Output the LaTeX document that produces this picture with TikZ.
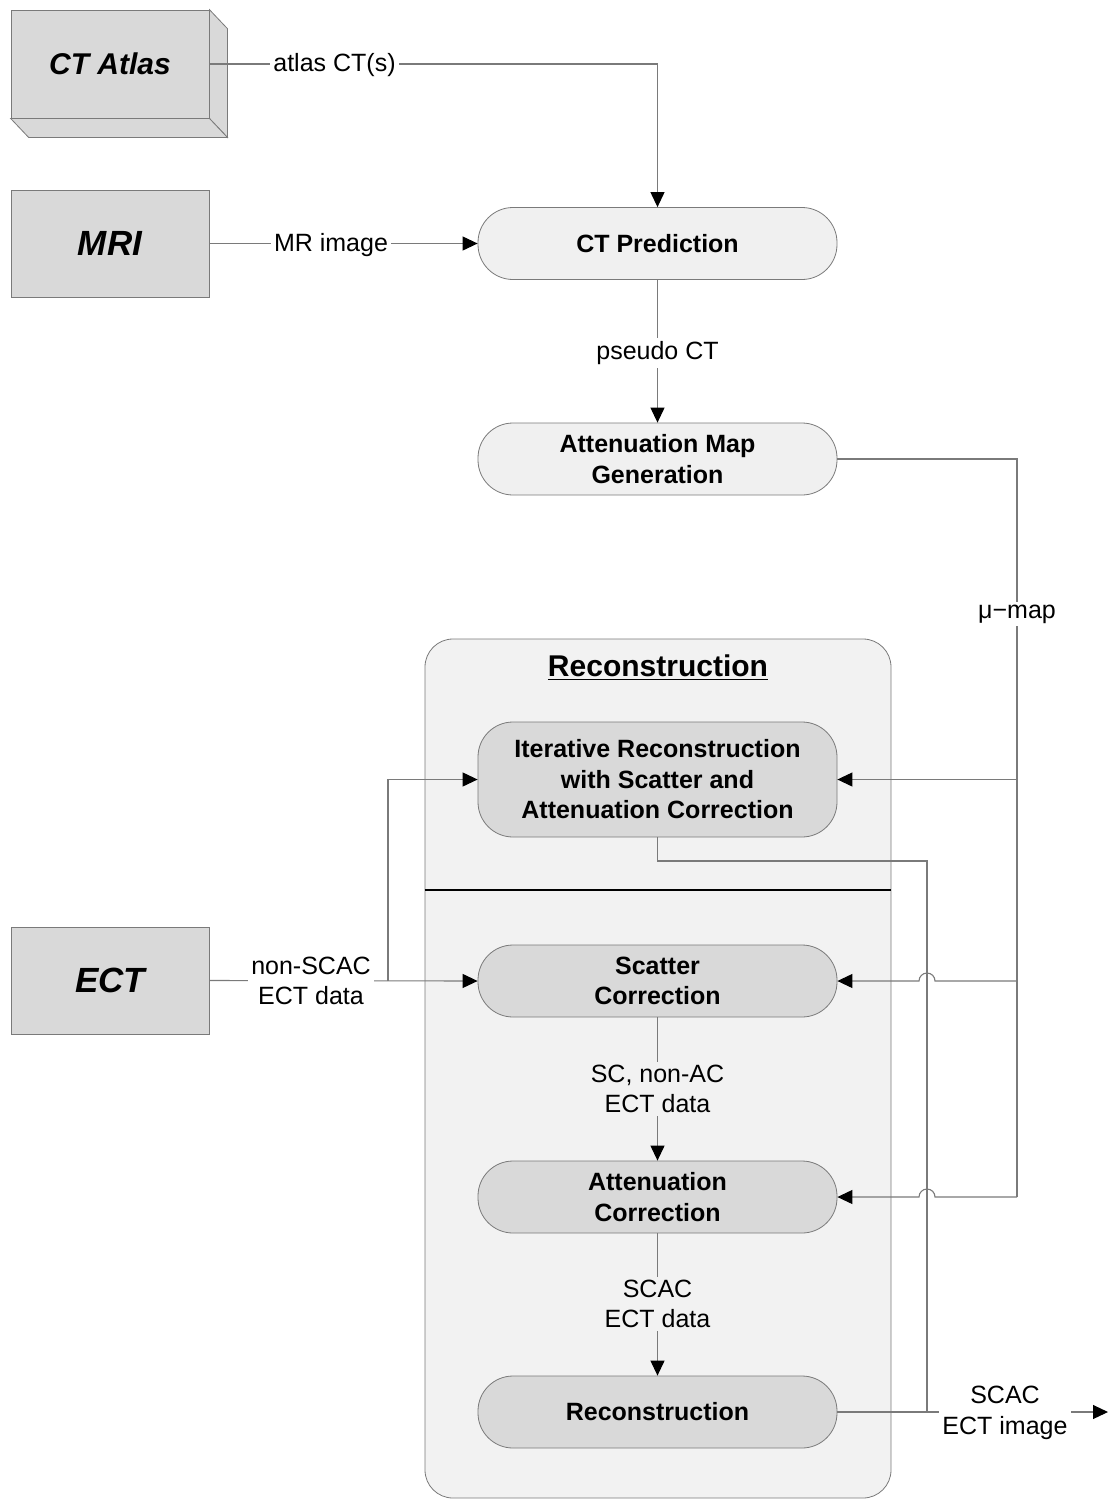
\documentclass[tikz,border=0pt]{standalone}
\usepackage{fontspec}
\setmainfont{Liberation Sans}
\usetikzlibrary{arrows.meta,calc}
\definecolor{edge}{HTML}{7A7A7A}
\definecolor{boxgray}{HTML}{D9D9D9}
\definecolor{pill}{HTML}{F0F0F0}
\definecolor{panel}{HTML}{F2F2F2}

\begin{document}
\begin{tikzpicture}[x=0.5pt,y=-0.5pt,
  every node/.style={font=\fontsize{12.5}{15.25}\selectfont, align=center, inner sep=1pt},
  source/.style={draw=edge, fill=boxgray, minimum width=99pt, minimum height=53.5pt,
    font=\fontsize{17.5}{20}\selectfont\bfseries\itshape},
  light/.style={draw=edge, fill=pill, rounded corners=17.5pt, minimum width=179.5pt,
    minimum height=36pt, font=\fontsize{12.5}{15.25}\selectfont\bfseries},
  dark/.style={light, fill=boxgray},
  conn/.style={draw=edge, line width=0.55pt},
  arr/.style={conn, -{Triangle[length=7.5pt,width=7pt,color=black]}},
  lab/.style={fill=white, inner sep=1.5pt},
  plab/.style={fill=panel, inner sep=1.5pt},
]
\useasboundingbox (0,0) rectangle (1110,1499);

% reconstruction panel
\node[draw=edge, fill=panel, rounded corners=14pt, minimum width=233pt,
      minimum height=429.5pt] (panel) at (658,1068.5) {};
\node[font=\fontsize{15}{18}\selectfont\bfseries] (title) at (658,668) {\underline{Reconstruction}};
\coordinate (sep) at (658,890);
\draw[line width=1.4pt] (panel.west |- sep) -- (panel.east |- sep);

% inputs
\node[source, minimum height=54pt, font=\fontsize{15}{18}\selectfont\bfseries\itshape]
  (atlas) at (110,64) {CT Atlas};
\draw[draw=edge, fill=boxgray] (atlas.north east) -- ++(18,19)
  -- ($(atlas.south east)+(18,19)$) -- (atlas.south east) -- cycle;
\draw[draw=edge, fill=boxgray] (atlas.south west) -- ($(atlas.south west)+(18,19)$)
  -- ($(atlas.south east)+(18,19)$) -- (atlas.south east) -- cycle;
\node[source] (mri) at (110,243.5) {MRI};
\node[source] (ect) at (110,980.5) {ECT};

% processing steps
\node[light] (pred) at (657.5,243.5) {CT Prediction};
\node[light] (attn) at (657.5,459) {Attenuation Map\\Generation};
\node[dark, minimum height=57.5pt] (iter) at (657.5,779.5)
  {Iterative Reconstruction\\with Scatter and\\Attenuation Correction};
\node[dark] (scat) at (657.5,981) {Scatter\\Correction};
\node[dark] (atc) at (657.5,1197) {Attenuation\\Correction};
\node[dark] (recon) at (657.5,1412) {Reconstruction};

% helper points
\coordinate (split) at (388,981);
\coordinate (mubus) at (1017,1197);
\coordinate (jx) at (927,861);
\coordinate (out) at (1108,1412);

% connectors
\draw[arr] (atlas.east) -| (pred.north);
\draw[arr] (mri.east) -- (pred.west);
\draw[arr] (pred.south) -- (attn.north);
\draw[conn] (attn.east) -| (mubus);
\draw[arr] (mubus |- iter.east) -- (iter.east);
\draw[arr] (mubus |- scat.east) -- ($(jx |- scat.east)+(4pt,0)$)
  arc[start angle=0, end angle=180, radius=4pt] -- (scat.east);
\draw[arr] (mubus) -- ($(jx |- atc.east)+(4pt,0)$)
  arc[start angle=0, end angle=180, radius=4pt] -- (atc.east);
\draw[arr] (ect.east) -- (scat.west);
\draw[arr] (split) |- (iter.west);
\draw[arr] (scat.south) -- (atc.north);
\draw[arr] (atc.south) -- (recon.north);
\draw[conn] (iter.south) |- (jx) -- (jx |- recon.east);
\draw[arr] (recon.east) -- (out);

% connector labels
\node[lab] (lbatlas) at (334.5,65) {atlas CT(s)};
\node[lab] (lbmr) at (331,245) {MR image};
\node[lab] (lbpseudo) at (657.5,353) {pseudo CT};
\node[lab] (lbmu) at (1017,614) {μ−map};
\node[lab] (lbect) at (311,981) {non-SCAC\\ECT data};
\node[plab] (lbsc) at (657.5,1089) {SC, non-AC\\ECT data};
\node[plab] (lbscac) at (657.5,1304) {SCAC\\ECT data};
\node[lab] (lbout) at (1005,1413) {SCAC\\ECT image};
\end{tikzpicture}
\end{document}
